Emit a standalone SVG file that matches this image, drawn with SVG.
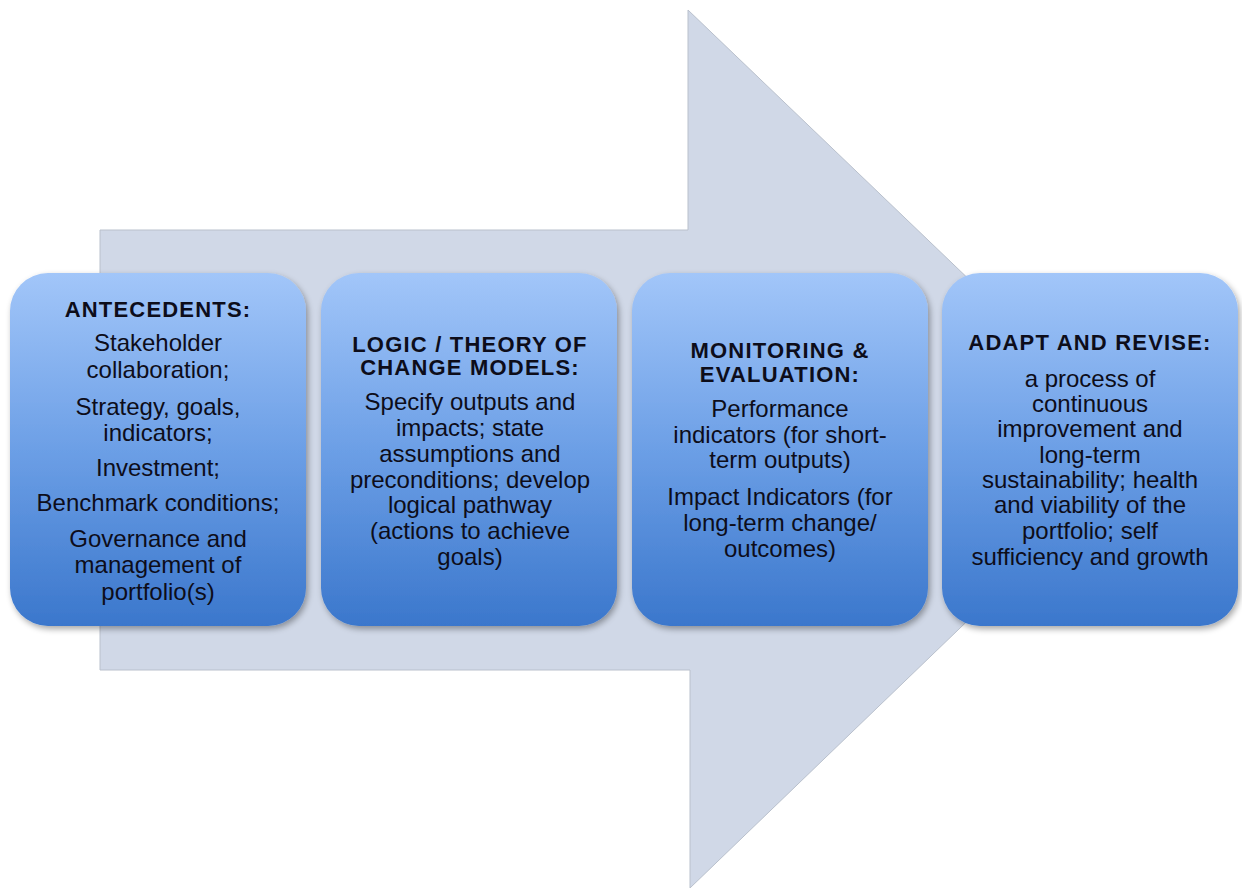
<svg xmlns="http://www.w3.org/2000/svg" width="1242" height="888" viewBox="0 0 1242 888">
  <defs>
    <linearGradient id="boxGrad" x1="0" y1="0" x2="0" y2="1">
      <stop offset="0" stop-color="#a2c6f9"/>
      <stop offset="0.5" stop-color="#6c9fe6"/>
      <stop offset="1" stop-color="#3b77cc"/>
    </linearGradient>
    <filter id="shadow" x="-10%" y="-10%" width="125%" height="125%">
      <feGaussianBlur in="SourceAlpha" stdDeviation="3"/>
      <feOffset dx="2" dy="3" result="b"/>
      <feComponentTransfer><feFuncA type="linear" slope="0.35"/></feComponentTransfer>
      <feMerge><feMergeNode/><feMergeNode in="SourceGraphic"/></feMerge>
    </filter>
  </defs>
  <style>
    .box { fill: url(#boxGrad); filter: url(#shadow); }
    .title { font-family: "Liberation Sans", Arial, sans-serif; font-weight: bold; font-size: 22px; letter-spacing: 1.2px; fill: #0d0d1a; text-anchor: middle; }
    .body { font-family: "Liberation Sans", Arial, sans-serif; font-size: 24px; fill: #0d0d1a; text-anchor: middle; }
    .arrow { fill: #d0d8e7; stroke: #b9c0cc; stroke-width: 1; }
  </style>
  <rect width="1242" height="888" fill="#ffffff"/>

  <g id="connectors">
    <polygon class="arrow" points="100,230 688,230 688,10 1146,449 690,888 690,670 100,670"/>
  </g>

  <g id="node-antecedents">
    <rect class="box" x="10" y="273" width="296" height="353" rx="38" ry="38"/>
    <text class="title" x="158" y="317">ANTECEDENTS:</text>
    <text class="body" x="158" y="351">Stakeholder</text>
    <text class="body" x="158" y="378">collaboration;</text>
    <text class="body" x="158" y="415">Strategy, goals,</text>
    <text class="body" x="158" y="441">indicators;</text>
    <text class="body" x="158" y="476">Investment;</text>
    <text class="body" x="158" y="511">Benchmark conditions;</text>
    <text class="body" x="158" y="547">Governance and</text>
    <text class="body" x="158" y="573">management of</text>
    <text class="body" x="158" y="600">portfolio(s)</text>
  </g>

  <g id="node-logic">
    <rect class="box" x="321" y="273" width="296" height="353" rx="38" ry="38"/>
    <text class="title" x="470" y="352">LOGIC / THEORY OF</text>
    <text class="title" x="470" y="375">CHANGE MODELS:</text>
    <text class="body" x="470" y="410">Specify outputs and</text>
    <text class="body" x="470" y="436">impacts; state</text>
    <text class="body" x="470" y="462">assumptions and</text>
    <text class="body" x="470" y="488">preconditions; develop</text>
    <text class="body" x="470" y="513">logical pathway</text>
    <text class="body" x="470" y="539">(actions to achieve</text>
    <text class="body" x="470" y="565">goals)</text>
  </g>

  <g id="node-monitoring">
    <rect class="box" x="632" y="273" width="296" height="353" rx="38" ry="38"/>
    <text class="title" x="780" y="358">MONITORING &amp;</text>
    <text class="title" x="780" y="382">EVALUATION:</text>
    <text class="body" x="780" y="417">Performance</text>
    <text class="body" x="780" y="443">indicators (for short-</text>
    <text class="body" x="780" y="468">term outputs)</text>
    <text class="body" x="780" y="505">Impact Indicators (for</text>
    <text class="body" x="780" y="531">long-term change/</text>
    <text class="body" x="780" y="557">outcomes)</text>
  </g>

  <g id="node-adapt">
    <rect class="box" x="942" y="273" width="296" height="353" rx="38" ry="38"/>
    <text class="title" x="1090" y="350">ADAPT AND REVISE:</text>
    <text class="body" x="1090" y="387">a process of</text>
    <text class="body" x="1090" y="412">continuous</text>
    <text class="body" x="1090" y="437">improvement and</text>
    <text class="body" x="1090" y="463">long-term</text>
    <text class="body" x="1090" y="488">sustainability; health</text>
    <text class="body" x="1090" y="513">and viability of the</text>
    <text class="body" x="1090" y="539">portfolio; self</text>
    <text class="body" x="1090" y="565">sufficiency and growth</text>
  </g>
</svg>
